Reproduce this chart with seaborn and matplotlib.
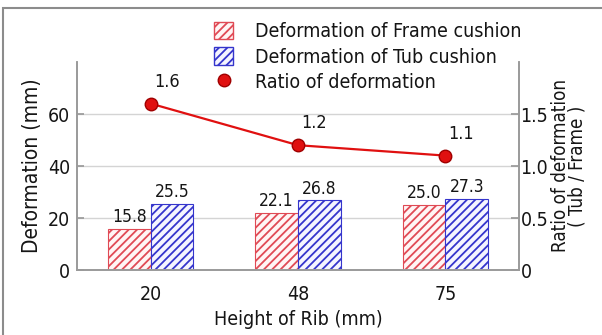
import matplotlib
matplotlib.use("Agg")
import matplotlib.pyplot as plt
import seaborn as sns
import pandas as pd
from matplotlib.patches import Patch, Rectangle
from matplotlib.lines import Line2D

rib_heights = ["20", "48", "75"]
frame_deformation = [15.8, 22.1, 25.0]
tub_deformation = [25.5, 26.8, 27.3]
ratio = [1.6, 1.2, 1.1]
series_names = ["Deformation of Frame cushion", "Deformation of Tub cushion"]
ratio_name = "Ratio of deformation"

sns.set_theme(style="white")
plt.rcParams["font.family"] = ["DejaVu Sans"]
plt.rcParams["font.stretch"] = "condensed"
plt.rcParams["hatch.linewidth"] = 1.3
text_color = "#151515"
spine_color = "#9a9a9a"

df = pd.DataFrame({
    "height": rib_heights * 2,
    "series": [series_names[0]] * 3 + [series_names[1]] * 3,
    "value": frame_deformation + tub_deformation,
})

fig = plt.figure(figsize=(6.02, 3.35), dpi=100)
ax = fig.add_axes([77 / 602, 1 - 270 / 335, 442 / 602, 208 / 335])

sns.barplot(data=df, x="height", y="value", hue="series", order=rib_heights,
            hue_order=series_names, width=0.58, ax=ax, legend=False,
            palette=["white", "white"], saturation=1)

bar_styles = [("#e04a55", "#fff5f5"), ("#3535cc", "#f5f5ff")]
for container, (ec, fc) in zip(ax.containers, bar_styles):
    for bar in container:
        bar.set_facecolor(fc)
        bar.set_edgecolor(ec)
        bar.set_hatch("////")
        bar.set_linewidth(0.8)
    ax.bar_label(container, fmt="%.1f", padding=2, fontsize=12.5, color=text_color)

ax.set_ylim(0, 80)
ax.set_xlim(-0.5, 2.5)
ax.set_yticks([0, 20, 40, 60])
ax.set_yticklabels(["0", "20", "40", "60"])
ax.yaxis.grid(True, color="#d4d4d4", linewidth=1)
ax.set_axisbelow(True)
ax.set_xlabel("Height of Rib (mm)", fontsize=14, color=text_color, labelpad=4)
ax.set_ylabel("Deformation (mm)", fontsize=15, color=text_color, labelpad=4)
ax.tick_params(axis="y", direction="in", length=5, color=spine_color,
               labelsize=14, labelcolor=text_color, pad=5)
ax.tick_params(axis="x", length=0, labelsize=14, labelcolor=text_color, pad=11)
ax.set_xticks([0.5, 1.5], minor=True)
ax.tick_params(axis="x", which="minor", direction="in", length=5,
               color=spine_color)
for side in ["left", "bottom", "right"]:
    ax.spines[side].set_color(spine_color)
    ax.spines[side].set_linewidth(1.2)
ax.spines["top"].set_visible(False)

ax2 = ax.twinx()
sns.pointplot(x=rib_heights, y=ratio, order=rib_heights, color="#e01010",
              markers="o", linestyles="-", ax=ax2, errorbar=None,
              markersize=9, linewidth=1.6,
              markeredgecolor="#a00000", markeredgewidth=1)
ax2.set_xlim(-0.5, 2.5)
ax2.set_ylim(0, 2.0)
ax2.set_yticks([0, 0.5, 1.0, 1.5])
ax2.set_yticklabels(["0", "0.5", "1.0", "1.5"])
ax2.set_ylabel("Ratio of deformation\n( Tub / Frame )", fontsize=13.5,
               color=text_color, linespacing=0.85, labelpad=2)
ax2.tick_params(axis="y", direction="in", length=6, color=spine_color,
                labelsize=14, labelcolor=text_color, pad=1)
for side in ["left", "bottom", "right"]:
    ax2.spines[side].set_color(spine_color)
    ax2.spines[side].set_linewidth(1.2)
ax2.spines["top"].set_visible(False)
for i, r in enumerate(ratio):
    ax2.annotate(f"{r:.1f}", (i, r), xytext=(16, 13), textcoords="offset pixels",
                 ha="center", va="bottom", fontsize=13, color=text_color)

handles = [
    Patch(facecolor=bar_styles[0][1], edgecolor=bar_styles[0][0], hatch="////",
          label=series_names[0]),
    Patch(facecolor=bar_styles[1][1], edgecolor=bar_styles[1][0], hatch="////",
          label=series_names[1]),
    Line2D([], [], marker="o", linestyle="none", color="#e01010",
           markeredgecolor="#a00000", markersize=9, label=ratio_name),
]
fig.legend(handles=handles, loc="upper left", bbox_to_anchor=(214 / 602, 1 - 22 / 335),
           frameon=False, fontsize=14, handlelength=1.0, handleheight=1.0,
           handletextpad=1.1, labelspacing=0.3, borderaxespad=0, borderpad=0,
           labelcolor=text_color)

# Thin gray frame along the top and left edges of the figure
fig.patches.append(Rectangle((3 / 602, -0.1), 1.2, 1.1 - 8 / 335,
                             transform=fig.transFigure, fill=False,
                             edgecolor="#8c8c8c", linewidth=1.5))

fig.savefig("out.png", dpi=100)
